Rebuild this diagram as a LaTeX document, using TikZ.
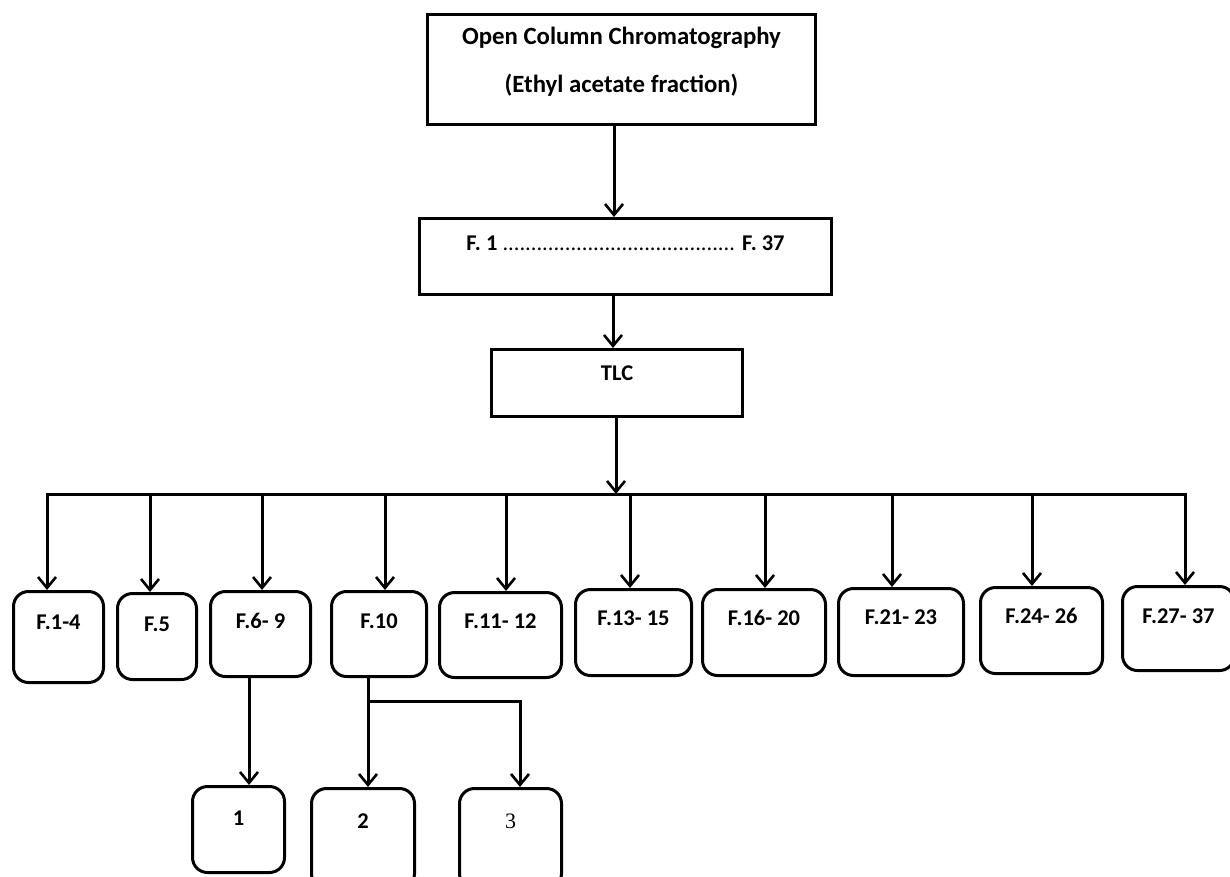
\documentclass[tikz,border=0pt]{standalone}
\usepackage{fontspec}
\setmainfont{Carlito}
\newfontfamily\serifnum{Liberation Serif}
\usetikzlibrary{arrows.meta}
\tikzset{
  sqbox/.style={draw, line width=3pt, inner sep=0pt, font=\bfseries\fontsize{22.5}{26}\selectfont},
  rbox/.style={sqbox, rounded corners=15pt},
  arr/.style={line width=3pt, line join=miter, -{Straight Barb[length=11pt,width=18pt,line width=2.6pt]}},
  ln/.style={line width=3pt, line cap=rect},
}
\begin{document}
\begin{tikzpicture}[x=1pt,y=-1pt]
\useasboundingbox (0,0) rectangle (1230,876);
% top boxes
\node[sqbox, font=\bfseries\fontsize{24.8}{48}\selectfont, minimum width=388, text height=29.5, text depth=80.5] (top) at (621.5,69.5)
  {\vtop{\baselineskip=48pt\halign{\hfil#\hfil\cr Open Column Chromatography\cr (Ethyl acetate fraction)\cr}}};
\node[sqbox, minimum width=412, text height=31.5, text depth=44.5] (fbox) at (625.5,256.5)
  {F. 1 {\mdseries.........................................} F. 37};
\node[sqbox, minimum width=251, text height=30.5, text depth=36.5] (tlc) at (617,383) {TLC};
% fraction boxes
\node[rbox, minimum width=90,  text height=37.5, text depth=53.5] (b1)  at (58.5,637)    {F.1-4};
\node[rbox, minimum width=79,  text height=37.5, text depth=48.5] (b2)  at (157,636.5)   {F.5\hspace{6pt}};
\node[rbox, minimum width=100, text height=36.5, text depth=48.5] (b3)  at (260.5,634)   {F.6- 9};
\node[rbox, minimum width=95,  text height=36.5, text depth=48.5] (b4)  at (379,634)     {F.10};
\node[rbox, minimum width=122, text height=35.5, text depth=49.5] (b5)  at (500.5,635)   {F.11- 12};
\node[rbox, minimum width=116, text height=35.5, text depth=50.5] (b6)  at (633.5,632.5) {F.13- 15};
\node[rbox, minimum width=123, text height=35.5, text depth=50.5] (b7)  at (764,632.5)   {F.16- 20};
\node[rbox, minimum width=125, text height=35.5, text depth=51.5] (b8)  at (901,632)     {F.21- 23};
\node[rbox, minimum width=122, text height=35.5, text depth=50.5] (b9)  at (1041.5,630.5){F.24- 26};
\node[rbox, minimum width=112, text height=36.5, text depth=47.5] (b10) at (1178.5,628.5){F.27- 37};
% compound boxes
\node[rbox, minimum width=92,  text height=38.5, text depth=47.5] (c1) at (238.5,829.5) {1};
\node[rbox, minimum width=103, text height=39.5, text depth=60.5] (c2) at (363,838.5)   {2};
\node[rbox, minimum width=102, text height=39.5, text depth=60.5, font=\serifnum\fontsize{22}{26}\selectfont] (c3) at (510.5,838.5) {3};
% connectors
\coordinate (v1) at (614,0);
\coordinate (v2) at (613,0);
\coordinate (v3) at (616,0);
\coordinate (bus) at (616,494);
\draw[arr] (v1 |- top.south) -- (v1 |- fbox.north);
\draw[arr] (v2 |- fbox.south) -- (v2 |- tlc.north);
\draw[arr] (v3 |- tlc.south) -- (bus);
\coordinate (d1) at (47,494);
\coordinate (d2) at (150,494);
\coordinate (d3) at (262,494);
\coordinate (d4) at (385,494);
\coordinate (d5) at (506,494);
\coordinate (d6) at (630,494);
\coordinate (d7) at (765,494);
\coordinate (d8) at (892,494);
\coordinate (d9) at (1032,494);
\coordinate (d10) at (1185,494);
\draw[ln] (d1) -- (d10);
\foreach \i in {1,...,10} {
  \draw[arr] (d\i) -- (d\i |- b\i.north);
}
\coordinate (e1) at (249,0);
\coordinate (e2) at (368,0);
\coordinate (j) at (368,701);
\coordinate (e3) at (520,701);
\draw[arr] (e1 |- b3.south) -- (e1 |- c1.north);
\draw[arr] (e2 |- b4.south) -- (e2 |- c2.north);
\draw[arr] (j) -- (e3) -- (e3 |- c3.north);
\end{tikzpicture}
\end{document}
